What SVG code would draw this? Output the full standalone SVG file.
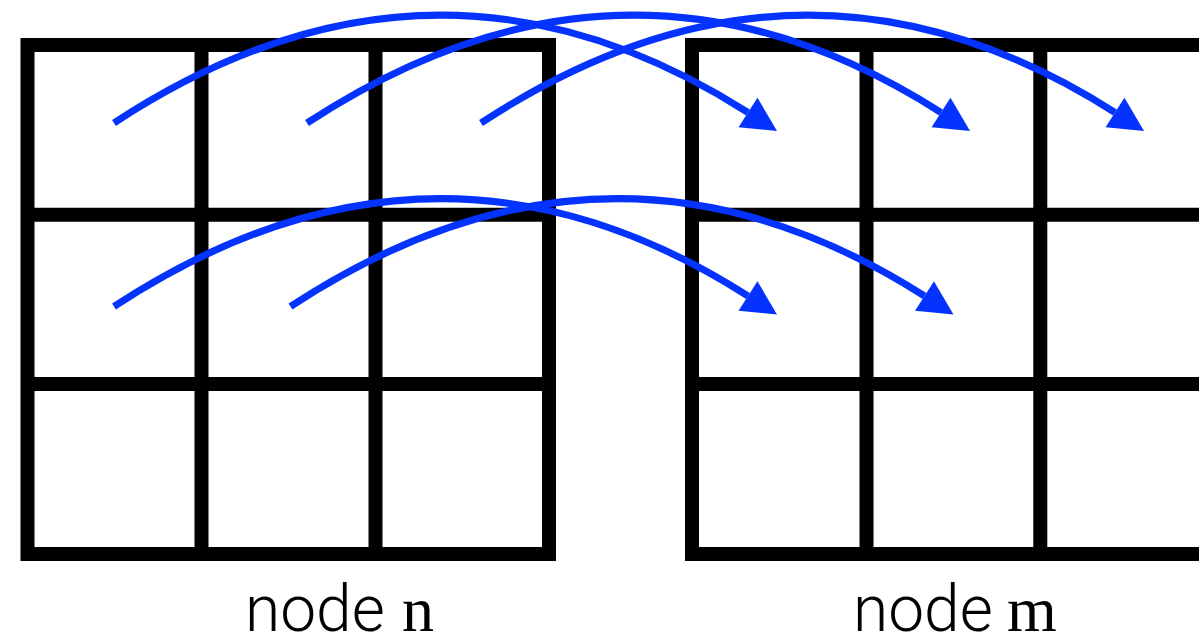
<svg xmlns="http://www.w3.org/2000/svg" width="1199" height="640" viewBox="0 0 1199 640">
  <defs>
    <style>
      .grid { fill: none; stroke: #000; stroke-width: 14; }
      .arc { fill: none; stroke: #0433ff; stroke-width: 7; marker-end: url(#head); }
      .label { font-size: 64px; fill: #000; }
      .word { font-family: Roboto, "Liberation Sans", sans-serif; font-weight: 300; }
      .var { font-family: "Liberation Serif", "DejaVu Serif", serif; }
    </style>
    <marker id="head" viewBox="0 -18 35 36" markerWidth="35" markerHeight="36"
            refX="0" refY="0" orient="auto" markerUnits="userSpaceOnUse" overflow="visible">
      <path d="M0,-17.6 L34.4,0 L0,17.6 Z" fill="#0433ff"/>
    </marker>
  </defs>

  <rect width="1199" height="640" fill="#fff"/>

  <!-- node n: 3x3 block of cells -->
  <g id="node-n">
    <rect class="grid" x="27.5" y="45" width="521.5" height="509"/>
    <path class="grid" d="M201.5,45 V554 M375.5,45 V554 M27.5,214.7 H549 M27.5,384 H549"/>
    <text class="label" x="245" y="631"><tspan class="word">node</tspan><tspan class="var" x="402">n</tspan></text>
  </g>

  <!-- node m: 3x3 block of cells, right column runs past the edge -->
  <g id="node-m">
    <rect class="grid" x="692" y="45" width="522" height="509"/>
    <path class="grid" d="M866.5,45 V554 M1040.3,45 V554 M692,214.7 H1214 M692,384 H1214"/>
    <text class="label" x="853" y="631"><tspan class="word">node</tspan><tspan class="var" x="1007">m</tspan></text>
  </g>

  <!-- transfers from node n cells to node m cells -->
  <g id="connectors">
    <path class="arc" d="M114,123 q320.8,-210.3 634,-10.5"/>
    <path class="arc" d="M307,123 q320.8,-210.3 634,-10.5"/>
    <path class="arc" d="M481,123 q320.8,-210.3 634,-10.5"/>
    <path class="arc" d="M114,306.5 q320.8,-210.3 634,-10.5"/>
    <path class="arc" d="M290.5,306.5 q320.8,-210.3 634,-10.5"/>
  </g>
</svg>
